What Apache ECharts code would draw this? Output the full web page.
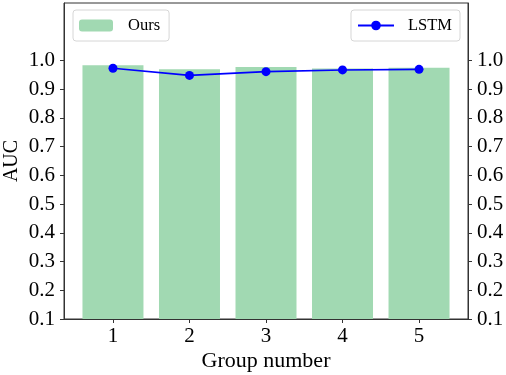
<!DOCTYPE html>
<html>
<head>
<meta charset="utf-8">
<script src="https://cdn.jsdelivr.net/npm/echarts@6/dist/echarts.min.js"></script>
<style>html,body{margin:0;padding:0;background:#fff}#c{width:506px;height:375px}</style>
</head>
<body>
<div id="c"></div>
<script>
var groups = [1, 2, 3, 4, 5];
var oursAUC = [0.983, 0.969, 0.977, 0.972, 0.975];
var lstmAUC = [0.973, 0.948, 0.961, 0.967, 0.969];
var yTicks = [0.1, 0.2, 0.3, 0.4, 0.5, 0.6, 0.7, 0.8, 0.9, 1.0];

var FONT = '"Liberation Serif", "Times New Roman", serif';
var chart = echarts.init(document.getElementById('c'), null, {renderer: 'canvas'});

function yAxisDef(pos) {
  return {
    type: 'value', position: pos, min: 0.1, max: 1.2,
    axisLine: {show: true, lineStyle: {color: '#333', width: 1}},
    axisTick: {show: true, inside: false, length: 4, customValues: yTicks, lineStyle: {color: '#333'}},
    axisLabel: {show: true, customValues: yTicks, fontFamily: FONT, fontSize: 21, color: '#000', margin: 9,
      formatter: function (v) { return v.toFixed(1); }},
    splitLine: {show: false}
  };
}

var yl = yAxisDef('left');
yl.name = 'AUC'; yl.nameLocation = 'middle'; yl.nameGap = 42; yl.nameMoveOverlap = false;
yl.nameTextStyle = {fontFamily: FONT, fontSize: 20, color: '#000'};

chart.setOption({
  animation: false,
  grid: {left: 64, right: 38, top: 3, bottom: 56, show: true, borderColor: '#333', borderWidth: 1,
         containLabel: false, outerBoundsMode: 'none'},
  legend: [
    {data: ['Ours'], left: 73, top: 10, orient: 'horizontal', itemWidth: 34, itemHeight: 12,
     borderColor: '#d6d6d6', borderWidth: 1, borderRadius: 3, padding: [7, 9, 7, 6],
     textStyle: {fontFamily: FONT, fontSize: 16.5, color: '#000', padding: [0, 0, 0, 10]}},
    {data: ['LSTM'], right: 46, top: 10, orient: 'horizontal', itemWidth: 36, itemHeight: 12,
     borderColor: '#d6d6d6', borderWidth: 1, borderRadius: 3, padding: [7, 8, 7, 6],
     textStyle: {fontFamily: FONT, fontSize: 16.5, color: '#000', padding: [0, 0, 0, 9]}}
  ],
  xAxis: {
    type: 'value', min: 0.36, max: 5.64,
    name: 'Group number', nameLocation: 'middle', nameGap: 31, nameMoveOverlap: false,
    nameTextStyle: {fontFamily: FONT, fontSize: 22, color: '#000'},
    axisLine: {show: true, lineStyle: {color: '#333'}},
    axisTick: {show: true, inside: false, length: 4, customValues: groups, lineStyle: {color: '#333'}},
    axisLabel: {show: true, customValues: groups, fontFamily: FONT, fontSize: 21, color: '#000', margin: 7},
    splitLine: {show: false}
  },
  yAxis: [yl, yAxisDef('right')],
  series: [
    {name: 'Ours', type: 'bar', barWidth: 61, clip: true,
     itemStyle: {color: '#a1d9b2'},
     data: groups.map(function (g, i) { return [g, oursAUC[i]]; })},
    {name: 'LSTM', type: 'line', z: 5, symbol: 'circle', symbolSize: 9,
     lineStyle: {color: '#0000ff', width: 1.6}, itemStyle: {color: '#0000ff'},
     data: groups.map(function (g, i) { return [g, lstmAUC[i]]; })}
  ]
});
</script>
</body>
</html>
